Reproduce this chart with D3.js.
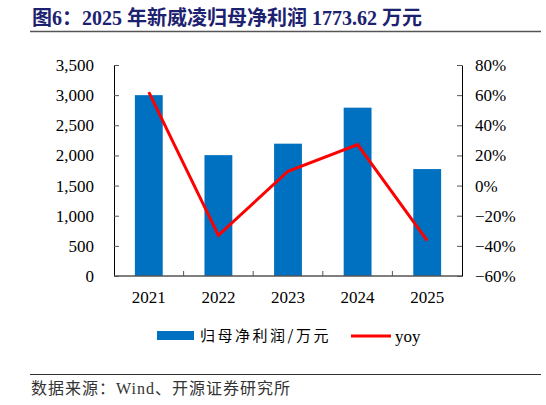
<!DOCTYPE html>
<html>
<head>
<meta charset="utf-8">
<script src="https://cdn.jsdelivr.net/npm/d3@7"></script>
<style>
  body { margin: 0; background: #fff; }
  svg { display: block; }
  .serif { font-family: "Liberation Serif", "Times New Roman", "Noto Sans CJK SC", serif; }
</style>
</head>
<body>
<div id="chart"></div>
<script>
// data
const years = ['2021', '2022', '2023', '2024', '2025'];
const profit = [3000, 2005, 2195, 2792, 1773.62];   // 归母净利润/万元
const yoy = [0.62, -0.33, 0.095, 0.272, -0.365];
const leftTicks = [0, 500, 1000, 1500, 2000, 2500, 3000, 3500];
const rightTicks = [-0.6, -0.4, -0.2, 0, 0.2, 0.4, 0.6, 0.8];

const width = 546, height = 405;
const margin = { top: 65, left: 114, right: 462, bottom: 276 };

const svg = d3.select('#chart').append('svg')
    .attr('width', width)
    .attr('height', height);

// title + rules
svg.append('text')
    .attr('x', 32).attr('y', 25)
    .attr('fill', '#1c2270')
    .attr('font-size', 20)
    .attr('font-weight', 'bold')
    .attr('font-family', '"Liberation Serif", "Noto Sans CJK SC", serif')
    .text('图6：2025 年新威凌归母净利润 1773.62 万元');

svg.append('line')
    .attr('x1', 30).attr('x2', 541).attr('y1', 31.5).attr('y2', 31.5)
    .attr('stroke', '#555').attr('stroke-width', 1.5);
svg.append('line')
    .attr('x1', 30).attr('x2', 541).attr('y1', 374.5).attr('y2', 374.5)
    .attr('stroke', '#333').attr('stroke-width', 1);

const src = svg.append('text')
    .attr('x', 31).attr('y', 394)
    .attr('fill', '#333')
    .attr('font-size', 16)
    .attr('letter-spacing', 1)
    .attr('font-family', '"Noto Sans CJK SC", serif');
src.append('tspan').text('数据来源：');
src.append('tspan').attr('class', 'serif').text('Wind');
src.append('tspan').text('、开源证券研究所');

// scales
const x = d3.scaleBand().domain(years).range([margin.left, margin.right]).paddingInner(0.6).paddingOuter(0.3);
const xCenter = d => x(d) + x.bandwidth() / 2;
const yL = d3.scaleLinear().domain([0, 3500]).range([margin.bottom, margin.top]);
const yR = d3.scaleLinear().domain([-0.6, 0.8]).range([margin.bottom, margin.top]);

// bars
svg.append('g').selectAll('rect')
    .data(profit)
    .enter()
    .append('rect')
    .attr('x', (d, i) => x(years[i]))
    .attr('y', d => yL(d))
    .attr('width', x.bandwidth())
    .attr('height', d => yL(0) - yL(d))
    .attr('fill', '#0070c0');

// yoy line
const line = d3.line()
    .x((d, i) => xCenter(years[i]))
    .y(d => yR(d));
svg.append('path')
    .datum(yoy)
    .attr('d', line)
    .attr('fill', 'none')
    .attr('stroke', '#ff0000')
    .attr('stroke-width', 3)
    .attr('stroke-linejoin', 'miter');

// axes
const axisStyle = g => {
    g.select('.domain').attr('stroke', '#000');
    g.selectAll('.tick line').attr('stroke', '#555');
    g.selectAll('.tick text')
        .attr('class', 'serif')
        .attr('font-size', 17)
        .attr('fill', '#000');
    g.attr('font-family', null);
};

svg.append('g')
    .attr('transform', `translate(${margin.left},0)`)
    .call(d3.axisLeft(yL).tickValues(leftTicks).tickFormat(d3.format(',')).tickSize(-5).tickSizeOuter(0).tickPadding(20))
    .call(axisStyle);

svg.append('g')
    .attr('transform', `translate(${margin.right},0)`)
    .call(d3.axisRight(yR).tickValues(rightTicks).tickFormat(d3.format('.0%')).tickSize(-5).tickSizeOuter(0).tickPadding(13))
    .call(axisStyle);

// category axis: ticks sit between the categories
const xAxis = svg.append('g')
    .attr('transform', `translate(0,${margin.bottom})`);
xAxis.append('line')
    .attr('x1', margin.left).attr('x2', margin.right)
    .attr('stroke', '#555').attr('stroke-width', 1.5);
xAxis.selectAll('.sep')
    .data(years.slice(1))
    .enter()
    .append('line')
    .attr('x1', d => x(d) - x.step() * x.paddingInner() / 2)
    .attr('x2', d => x(d) - x.step() * x.paddingInner() / 2)
    .attr('y1', 0).attr('y2', -5)
    .attr('stroke', '#555');
xAxis.selectAll('.lab')
    .data(years)
    .enter()
    .append('text')
    .attr('class', 'serif')
    .attr('x', d => xCenter(d))
    .attr('y', 27)
    .attr('text-anchor', 'middle')
    .attr('font-size', 17)
    .text(d => d);

// legend
const legend = svg.append('g');
legend.append('rect')
    .attr('x', 157).attr('y', 331).attr('width', 37).attr('height', 9)
    .attr('fill', '#0070c0');
legend.append('text')
    .attr('x', 200).attr('y', 341)
    .attr('font-size', 15)
    .attr('font-family', '"Noto Sans CJK SC", serif')
    .attr('letter-spacing', 2.5)
    .text('归母净利润/万元');
legend.append('line')
    .attr('x1', 351).attr('x2', 391).attr('y1', 336).attr('y2', 336)
    .attr('stroke', '#ff0000').attr('stroke-width', 3);
legend.append('text')
    .attr('class', 'serif')
    .attr('x', 395).attr('y', 342)
    .attr('font-size', 17)
    .text('yoy');
</script>
</body>
</html>
